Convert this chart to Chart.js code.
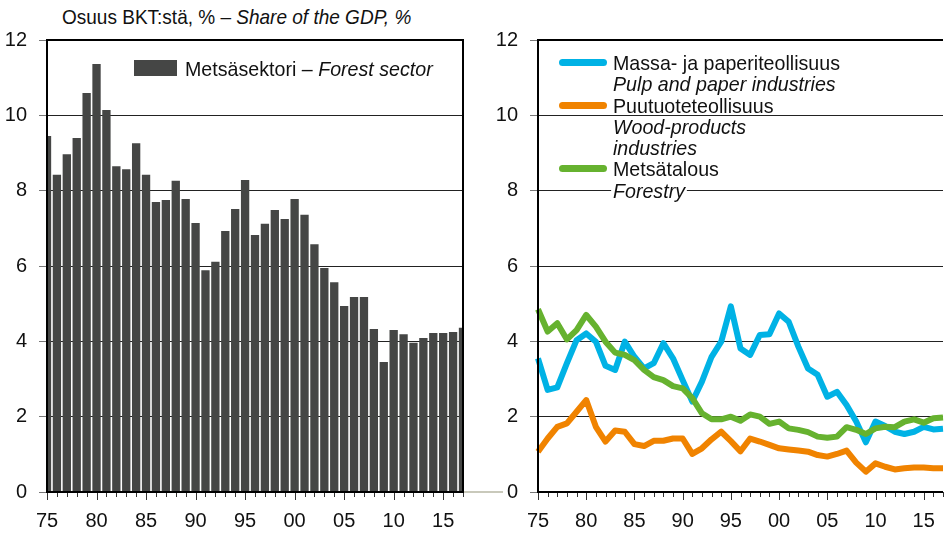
<!DOCTYPE html>
<html>
<head>
<meta charset="utf-8">
<title>Metsäsektorin osuus BKT:stä</title>
<script src="https://cdn.jsdelivr.net/npm/chart.js@4.4.1/dist/chart.umd.min.js"></script>
<style>
  html, body { margin: 0; padding: 0; width: 948px; height: 543px; overflow: hidden; background: #fff; }
  body { position: relative; font-family: "Liberation Sans", Arial, sans-serif; color: #111; }
  canvas { position: absolute; top: 0; }
  #sectorChart { left: 0; }
  #branchChart { left: 480px; }
  .title { position: absolute; left: 62px; top: 6px; font-size: 21px; line-height: 21px; white-space: nowrap;
           transform: scaleX(0.905); transform-origin: 0 0; }
  .legend { position: absolute; font-size: 21px; line-height: 21.3px; white-space: nowrap; }
  .legend .item { position: relative; padding-left: 54px; }
  .legend .txt { transform: scaleX(0.935); transform-origin: 0 0; }
  .legend .swatch { position: absolute; left: 0; top: 7px; width: 48px; height: 7px; border-radius: 4px; }
  .legend .bg { background: #fff; padding: 0 2px; margin-left: -2px; }
  #barLegend .swatch { width: 43px; height: 16px; border-radius: 0; top: 2px; left: 0; }
  #barLegend .item { padding-left: 51px; }
  .link { position: absolute; left: 463px; top: 491px; width: 40px; height: 2px; background: #c9c9bb; }
</style>
</head>
<body>
<div class="title">Osuus BKT:stä, % – <i>Share of the GDP, %</i></div>
<div class="link"></div>
<canvas id="sectorChart" width="480" height="543"></canvas>
<canvas id="branchChart" width="480" height="543"></canvas>
<div class="legend" id="barLegend" style="left:134px; top:58px;"></div>
<div class="legend" id="lineLegend" style="left:559px; top:52px;"></div>

<script>
const years = ['1975','1976','1977','1978','1979','1980','1981','1982','1983','1984',
  '1985','1986','1987','1988','1989','1990','1991','1992','1993','1994',
  '1995','1996','1997','1998','1999','2000','2001','2002','2003','2004',
  '2005','2006','2007','2008','2009','2010','2011','2012','2013','2014',
  '2015','2016','2017'];

// forest sector total, % of GDP
const forestSector = [9.45, 8.42, 8.97, 9.40, 10.59, 11.36, 10.14, 8.65, 8.57, 9.26,
  8.42, 7.70, 7.75, 8.26, 7.78, 7.14, 5.89, 6.11, 6.93, 7.51,
  8.28, 6.82, 7.12, 7.49, 7.25, 7.78, 7.36, 6.58, 5.95, 5.57,
  4.94, 5.18, 5.18, 4.33, 3.45, 4.30, 4.19, 3.96, 4.09, 4.22,
  4.22, 4.25, 4.36];

// branches, % of GDP
const pulpPaper = [3.55, 2.71, 2.78, 3.42, 4.03, 4.21, 3.99, 3.35, 3.24, 3.99,
  3.59, 3.28, 3.42, 3.95, 3.55, 2.97, 2.40, 2.93, 3.59, 3.99,
  4.93, 3.81, 3.64, 4.17, 4.19, 4.74, 4.52, 3.86, 3.28, 3.11,
  2.53, 2.66, 2.31, 1.87, 1.32, 1.87, 1.75, 1.60, 1.54, 1.60,
  1.73, 1.66, 1.68];
const woodProducts = [1.07, 1.42, 1.73, 1.82, 2.13, 2.44, 1.73, 1.34, 1.63, 1.60,
  1.27, 1.22, 1.36, 1.36, 1.42, 1.42, 1.01, 1.16, 1.40, 1.60,
  1.35, 1.08, 1.42, 1.34, 1.25, 1.16, 1.13, 1.10, 1.07, 0.98,
  0.94, 1.01, 1.10, 0.78, 0.54, 0.76, 0.67, 0.60, 0.63, 0.65,
  0.65, 0.63, 0.63];
const forestry = [4.85, 4.26, 4.48, 4.05, 4.30, 4.70, 4.39, 3.99, 3.70, 3.64,
  3.50, 3.24, 3.05, 2.97, 2.81, 2.75, 2.49, 2.09, 1.93, 1.93,
  2.00, 1.89, 2.06, 2.00, 1.81, 1.87, 1.69, 1.65, 1.59, 1.47,
  1.44, 1.47, 1.72, 1.65, 1.54, 1.69, 1.73, 1.72, 1.87, 1.93,
  1.84, 1.96, 1.98];

const barLabelsFi = ['Metsäsektori'];
const barLabelsEn = ['Forest sector'];
const lineLabelsFi = ['Massa- ja paperiteollisuus', 'Puutuoteteollisuus', 'Metsätalous'];
const lineLabelsEn = ['Pulp and paper industries', 'Wood-products<br>industries', 'Forestry'];
const lineColors = ['#00b2e5', '#f08300', '#66b22f'];
const barColor = '#454645';

Chart.defaults.font.family = '"Liberation Sans", Arial, sans-serif';
Chart.defaults.font.size = 20;
Chart.defaults.color = '#111';

// year ticks under the axis plus the black frame round the plot
const framePlugin = {
  id: 'frame',
  afterDraw(chart, args, opts) {
    const { ctx, chartArea: a } = chart;
    const x = chart.scales.x;
    ctx.save();
    ctx.strokeStyle = '#333';
    ctx.lineWidth = 1;
    chart.data.labels.forEach((lab, i) => {
      const px = Math.round(x.getPixelForValue(i)) + 0.5;
      const len = Number(lab) % 5 === 0 ? 8 : 5;
      ctx.beginPath();
      ctx.moveTo(px, a.bottom);
      ctx.lineTo(px, a.bottom + len);
      ctx.stroke();
    });
    ctx.strokeStyle = '#000';
    ctx.lineWidth = 2;
    ctx.beginPath();
    ctx.moveTo(a.left, a.bottom + 1);
    ctx.lineTo(a.left, a.top);
    ctx.lineTo(a.right, a.top);
    if (opts.right) ctx.lineTo(a.right, a.bottom + 1);
    ctx.stroke();
    ctx.beginPath();
    ctx.moveTo(a.left - 1, a.bottom);
    ctx.lineTo(a.right, a.bottom);
    ctx.stroke();
    ctx.restore();
  }
};

function xAxis() {
  return {
    offset: false,
    z: 1,
    grid: { display: false, drawTicks: false },
    border: { display: false },
    ticks: {
      autoSkip: false,
      maxRotation: 0,
      padding: 17,
      callback(value) {
        const y = this.getLabelForValue(value);
        return Number(y) % 5 === 0 ? y.slice(2) : '';
      }
    },
    afterFit(scale) { scale.height = 51; }
  };
}

// gridOnTop: bars sit under the gridlines, the lines on the right sit over them
function yAxis(width, gridOnTop) {
  return {
    min: 0,
    max: 12,
    z: gridOnTop ? 1 : 0,
    ticks: { stepSize: 2, padding: 12 },
    grid: { color: '#222', lineWidth: 1, tickLength: 8, tickColor: '#777' },
    border: { display: false },
    afterFit(scale) { scale.width = width; }
  };
}

new Chart(document.getElementById('sectorChart'), {
  type: 'bar',
  data: {
    labels: years,
    datasets: [{
      label: barLabelsFi[0],
      data: forestSector,
      backgroundColor: barColor,
      categoryPercentage: 1,
      barPercentage: 0.84,
      clip: 0
    }]
  },
  options: {
    responsive: false,
    animation: false,
    layout: { padding: { top: 40, right: 17, left: 0, bottom: 0 } },
    plugins: { legend: { display: false }, tooltip: { enabled: false }, frame: { right: true } },
    scales: { x: xAxis(), y: yAxis(47, true) }
  },
  plugins: [framePlugin]
});

const branchSeries = [pulpPaper, woodProducts, forestry];
const drawOrder = [1, 2, 0];

new Chart(document.getElementById('branchChart'), {
  type: 'line',
  data: {
    labels: years,
    datasets: branchSeries.map((s, i) => ({
      label: lineLabelsFi[i],
      data: s,
      borderColor: lineColors[i],
      borderWidth: 6,
      borderJoinStyle: 'round',
      borderCapStyle: 'butt',
      pointRadius: 0,
      tension: 0,
      order: drawOrder[i]
    }))
  },
  options: {
    responsive: false,
    animation: false,
    layout: { padding: { top: 40, right: 6, left: 0, bottom: 0 } },
    plugins: { legend: { display: false }, tooltip: { enabled: false }, frame: { right: false } },
    scales: { x: xAxis(), y: yAxis(58, false) }
  },
  plugins: [framePlugin]
});

// legends
document.getElementById('barLegend').innerHTML =
  '<div class="item"><span class="swatch" style="background:' + barColor + '"></span>' +
  '<div class="txt">' + barLabelsFi[0] + ' – <i>' + barLabelsEn[0] + '</i></div></div>';

document.getElementById('lineLegend').innerHTML = lineLabelsFi.map((fi, i) =>
  '<div class="item"><span class="swatch" style="background:' + lineColors[i] + '"></span>' +
  '<div class="txt">' + fi + '<br><i' + (i === 2 ? ' class="bg"' : '') + '>' + lineLabelsEn[i] + '</i></div></div>'
).join('');
</script>
</body>
</html>
